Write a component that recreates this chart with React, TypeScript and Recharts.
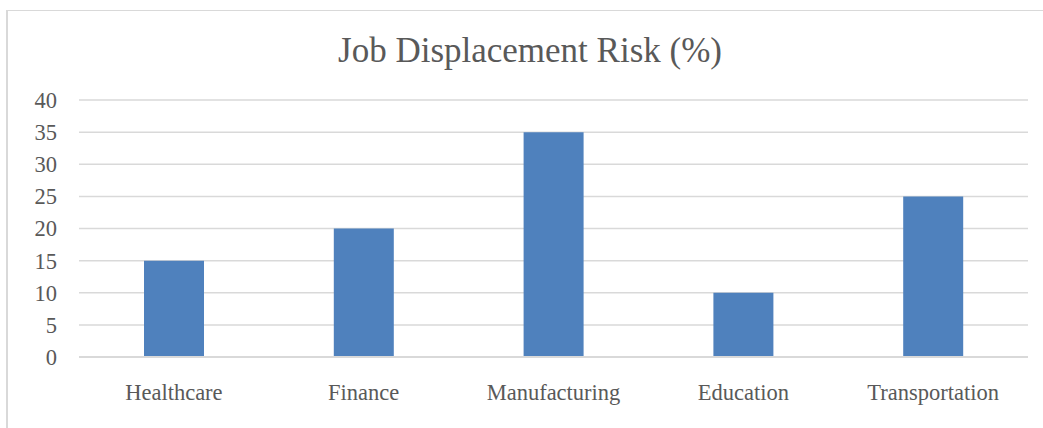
import React from "react";
import { BarChart, Bar, XAxis, YAxis, CartesianGrid } from "recharts";

const categories = ["Healthcare", "Finance", "Manufacturing", "Education", "Transportation"];
const riskValues = [15, 20, 35, 10, 25];
const yTicks = [0, 5, 10, 15, 20, 25, 30, 35, 40];

const data = categories.map((c, i) => ({ name: c, value: riskValues[i] }));

const FONT = "'Liberation Serif', 'Times New Roman', serif";
const TEXT = "#595959";

export default function App() {
  return (
    <div style={{ position: "absolute", left: 0, top: 0, width: 1043, height: 428, overflow: "hidden", background: "#fff" }}>
      <div
        style={{
          position: "absolute",
          left: 6,
          top: 10,
          width: 1100,
          height: 500,
          borderLeft: "2px solid #d9d9d9",
          borderTop: "1px solid #d9d9d9",
        }}
      />
      <div
        style={{
          position: "absolute",
          left: 0,
          width: 1060,
          top: 31,
          textAlign: "center",
          fontFamily: FONT,
          fontSize: 35,
          color: TEXT,
          lineHeight: "40px",
        }}
      >
        Job Displacement Risk (%)
      </div>
      <div style={{ position: "absolute", left: 0, top: 0 }}>
        <BarChart width={1043} height={428} data={data} margin={{ top: 100, right: 15, bottom: 0, left: 0 }}>
          <CartesianGrid vertical={false} stroke="#d9d9d9" strokeWidth={1.5} />
          <XAxis
            dataKey="name"
            height={71}
            axisLine={{ stroke: "#d9d9d9", strokeWidth: 2 }}
            tickLine={false}
            tickSize={0}
            tickMargin={27}
            tick={{ fill: TEXT, fontFamily: FONT, fontSize: 22.5 }}
            interval={0}
          />
          <YAxis
            width={79}
            domain={[0, 40]}
            ticks={yTicks}
            axisLine={false}
            tickLine={false}
            tickSize={0}
            tickMargin={22}
            tick={{ fill: TEXT, fontFamily: FONT, fontSize: 22.5 }}
            interval={0}
          />
          <Bar dataKey="value" fill="#4F81BD" barSize={60} isAnimationActive={false} />
        </BarChart>
      </div>
    </div>
  );
}
